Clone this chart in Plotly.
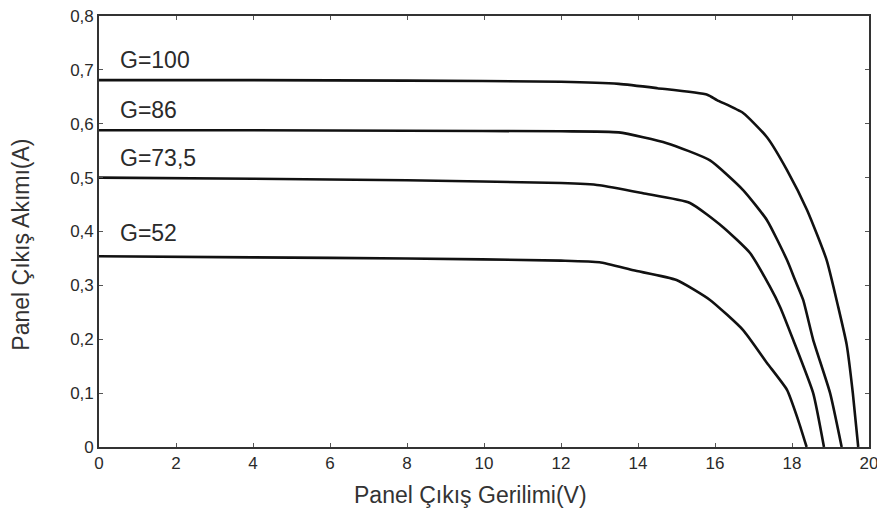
import plotly.graph_objects as go

# Irradiance levels
g_labels = ["G=100", "G=86", "G=73,5", "G=52"]

# Panel output voltage (V) and current (A) for each curve
v_g100 = [0, 4, 8, 12, 13.5, 14.5, 15.8, 16.05, 16.73, 17.35, 17.87, 18.39, 18.9, 19.2, 19.42, 19.58, 19.72]
i_g100 = [0.681, 0.681, 0.680, 0.678, 0.674, 0.666, 0.654, 0.644, 0.620, 0.575, 0.514, 0.440, 0.347, 0.26, 0.19, 0.10, 0.0]

v_g86 = [0, 4, 8, 12, 13.5, 14.75, 15.87, 16.73, 17.35, 17.87, 18.08, 18.29, 18.55, 18.99, 19.29]
i_g86 = [0.588, 0.588, 0.587, 0.586, 0.584, 0.564, 0.532, 0.477, 0.421, 0.347, 0.31, 0.273, 0.199, 0.10, 0.0]

v_g73 = [0, 4, 8, 12, 13, 14.13, 15.35, 16.21, 16.91, 17.43, 17.69, 18.03, 18.55, 18.83]
i_g73 = [0.500, 0.498, 0.495, 0.490, 0.486, 0.471, 0.453, 0.408, 0.36, 0.297, 0.26, 0.199, 0.10, 0.0]

v_g52 = [0, 4, 8, 12, 13, 13.88, 15.0, 15.87, 16.73, 17.35, 17.87, 18.16, 18.38]
i_g52 = [0.354, 0.352, 0.350, 0.346, 0.343, 0.328, 0.31, 0.273, 0.217, 0.156, 0.106, 0.05, 0.0]

# label anchor positions (data coords)
label_x = [0.5, 0.5, 0.5, 0.5]
label_y = [0.718, 0.626, 0.537, 0.398]

x_ticks = [0, 2, 4, 6, 8, 10, 12, 14, 16, 18, 20]
y_ticks = [0, 0.1, 0.2, 0.3, 0.4, 0.5, 0.6, 0.7, 0.8]

FONT = "Liberation Sans, Arial, sans-serif"

fig = go.Figure()
for v, i in [(v_g100, i_g100), (v_g86, i_g86), (v_g73, i_g73), (v_g52, i_g52)]:
    fig.add_trace(go.Scatter(x=v, y=i, mode="lines",
                             line=dict(color="#111111", width=2.6, shape="spline", smoothing=0.5),
                             showlegend=False, hoverinfo="skip"))

for lx, ly, txt in zip(label_x, label_y, g_labels):
    fig.add_annotation(x=lx, y=ly, text=txt, showarrow=False, xanchor="left", yanchor="middle",
                       font=dict(size=23, color="#2a2a2a", family=FONT))

# axis titles as annotations for precise placement
fig.add_annotation(x=0.482, y=-0.111, xref="paper", yref="paper", text="Panel Çıkış Gerilimi(V)",
                   showarrow=False, xanchor="center", yanchor="middle",
                   font=dict(size=23, color="#333333", family=FONT))
fig.add_annotation(x=-0.101, y=0.47, xref="paper", yref="paper", text="Panel Çıkış Akımı(A)",
                   showarrow=False, xanchor="center", yanchor="middle", textangle=-90,
                   font=dict(size=23, color="#333333", family=FONT))

axis_common = dict(showline=True, linecolor="#333333", linewidth=1.6, mirror="ticks",
                   ticks="inside", ticklen=4, tickcolor="#555555", tickwidth=1,
                   showgrid=False, zeroline=False, automargin=False,
                   ticklabeloverflow="allow",
                   tickfont=dict(size=17, color="#2a2a2a", family=FONT))

fig.update_xaxes(range=[0, 20], tickvals=x_ticks, **axis_common)
fig.update_yaxes(range=[0, 0.8], tickvals=y_ticks, tickformat=".1~f", **axis_common)

# page body has an 8px default margin, so the figure is 8px smaller each way
fig.update_layout(width=877, height=507, separators=", ",
                  margin=dict(l=91, r=16, t=8, b=68),
                  plot_bgcolor="white", paper_bgcolor="white")

fig.write_html("out.html")
